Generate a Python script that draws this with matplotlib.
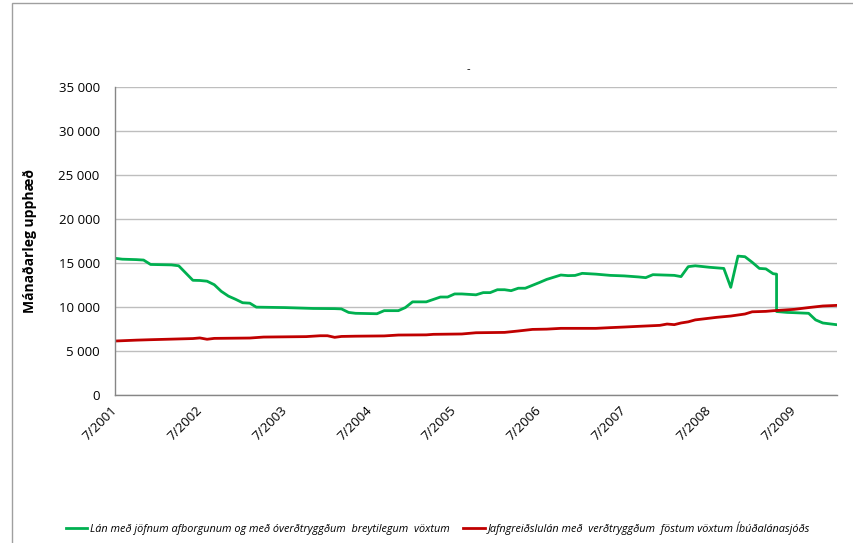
import matplotlib
matplotlib.use("Agg")
import matplotlib.pyplot as plt
import matplotlib.dates as mdates
from matplotlib.patches import Rectangle
from matplotlib.ticker import FuncFormatter, MultipleLocator
import pandas as pd

# --- data (monthly amounts, ISK) ---
green_dates = [
    "2001-07-01", "2001-08-01", "2001-10-01", "2001-11-01", "2001-12-01", "2002-03-01",
    "2002-04-01", "2002-06-01", "2002-07-01", "2002-08-01", "2002-09-01", "2002-10-01",
    "2002-11-01", "2002-12-01", "2003-01-01", "2003-02-01", "2003-03-01", "2003-07-01",
    "2003-11-01", "2004-02-01", "2004-03-01", "2004-04-01", "2004-05-01", "2004-08-01",
    "2004-09-01", "2004-11-01", "2004-12-01", "2005-01-01", "2005-03-01", "2005-05-01",
    "2005-06-01", "2005-07-01", "2005-08-01", "2005-10-01", "2005-11-01", "2005-12-01",
    "2006-01-01", "2006-02-01", "2006-03-01", "2006-04-01", "2006-05-01", "2006-07-01",
    "2006-08-01", "2006-10-01", "2006-11-01", "2006-12-01", "2007-01-01", "2007-03-01",
    "2007-05-01", "2007-07-01", "2007-09-01", "2007-10-01", "2007-11-01", "2008-02-01",
    "2008-03-01", "2008-04-01", "2008-05-01", "2008-07-01", "2008-09-01", "2008-10-01",
    "2008-11-01", "2008-12-01", "2009-01-01", "2009-02-01", "2009-03-01", "2009-04-01",
    "2009-04-16", "2009-04-16", "2009-06-01", "2009-07-01", "2009-09-01", "2009-10-01",
    "2009-11-01", "2009-12-01", "2010-01-01",
]
green_values = [
    15500, 15400, 15350, 15300, 14800, 14750,
    14650, 13000, 12980, 12900, 12500, 11750,
    11200, 10850, 10450, 10400, 9950, 9900,
    9800, 9780, 9750, 9350, 9250, 9200,
    9550, 9550, 9900, 10550, 10550, 11100,
    11100, 11450, 11450, 11350, 11600, 11600,
    11930, 11930, 11820, 12100, 12100, 12750,
    13100, 13600, 13530, 13550, 13790, 13700,
    13560, 13500, 13380, 13300, 13640, 13560,
    13420, 14550, 14650, 14480, 14350, 12200,
    15750, 15680, 15050, 14350, 14300, 13750,
    13700, 9450, 9350, 9320, 9250, 8500,
    8150, 8050, 7950,
]

red_dates = [
    "2001-07-01", "2001-10-01", "2001-12-01", "2002-06-01", "2002-07-01", "2002-08-01",
    "2002-09-01", "2003-02-01", "2003-04-01", "2003-10-01", "2003-12-01", "2004-01-01",
    "2004-02-01", "2004-03-01", "2004-05-01", "2004-09-01", "2004-11-01", "2005-03-01",
    "2005-04-01", "2005-08-01", "2005-10-01", "2006-02-01", "2006-04-01", "2006-06-01",
    "2006-08-01", "2006-10-01", "2007-03-01", "2007-05-01", "2007-07-01", "2007-09-01",
    "2007-12-01", "2008-01-01", "2008-02-01", "2008-03-01", "2008-04-01", "2008-05-01",
    "2008-08-01", "2008-10-01", "2008-12-01", "2009-01-01", "2009-03-01", "2009-04-01",
    "2009-07-01", "2009-09-01", "2009-11-01", "2010-01-01",
]
red_values = [
    6100, 6200, 6250, 6380, 6450, 6300,
    6400, 6440, 6550, 6600, 6700, 6700,
    6520, 6620, 6650, 6680, 6780, 6800,
    6860, 6900, 7040, 7080, 7240, 7420,
    7450, 7540, 7540, 7620, 7690, 7770,
    7880, 8030, 7960, 8150, 8280, 8500,
    8790, 8940, 9170, 9420, 9470, 9540,
    9700, 9900, 10080, 10150,
]

green_label = "Lán með jöfnum afborgunum og með óverðtryggðum  breytilegum  vöxtum"
red_label = "Jafngreiðslulán með  verðtryggðum  föstum vöxtum Íbúðalánasjóðs"
y_label = "Mánaðarleg upphæð"

plt.rcParams["font.family"] = ["Open Sans", "DejaVu Sans"]

fig = plt.figure(figsize=(8.54, 5.43), dpi=100)
ax = fig.add_axes([115 / 854, 1 - 394.7 / 543, 722 / 854, 308 / 543])

# outer chart frame (only top and left edges fall inside the image)
fig.patches.append(Rectangle((11.7 / 854, -0.2), 1.2, 1.2 - 3.3 / 543,
                             transform=fig.transFigure, fill=False,
                             edgecolor="#9f9f9f", lw=1.0, clip_on=False))

ax.plot(pd.to_datetime(green_dates), green_values, color="#00b050", lw=2.0,
        label=green_label, solid_joinstyle="round")
ax.plot(pd.to_datetime(red_dates), red_values, color="#c00000", lw=2.0,
        label=red_label, solid_joinstyle="round")

ax.set_ylim(0, 35000)
ax.set_xlim(pd.Timestamp("2001-07-01"), pd.Timestamp("2010-01-01"))
ax.yaxis.set_major_locator(MultipleLocator(5000))
ax.yaxis.set_major_formatter(FuncFormatter(lambda v, _: f"{v:,.0f}".replace(",", " ")))
ax.grid(axis="y", color="#bebebe", lw=1.0)
ax.set_axisbelow(True)

ax.xaxis.set_major_locator(mdates.MonthLocator(bymonth=7))
ax.xaxis.set_major_formatter(FuncFormatter(lambda d, _: f"7/{mdates.num2date(d).year}"))
for lbl in ax.get_xticklabels():
    lbl.set_rotation(45)
    lbl.set_ha("right")
    lbl.set_va("center")
    lbl.set_rotation_mode("anchor")

ax.tick_params(axis="both", length=0, labelsize=9.5, colors="black")
ax.tick_params(axis="y", pad=11)
ax.tick_params(axis="x", pad=10)

for side in ("top", "right"):
    ax.spines[side].set_visible(False)
for side in ("left", "bottom"):
    ax.spines[side].set_color("#868686")
    ax.spines[side].set_linewidth(1.0)

ax.set_ylabel(y_label, fontsize=10, fontweight="bold")
ax.yaxis.set_label_coords((37 - 115) / 722, 0.5)

# stray title remnant at top centre
fig.text(468 / 854, 1 - 70 / 543, "-", ha="center", va="center", fontsize=8)

leg = fig.legend(loc="center", bbox_to_anchor=(438 / 854, 1 - 528 / 543), ncol=2,
                 frameon=False, handlelength=2.0, handletextpad=0.3, columnspacing=1.2,
                 prop={"style": "italic", "size": 7.8})

fig.savefig("out.png", dpi=100)
